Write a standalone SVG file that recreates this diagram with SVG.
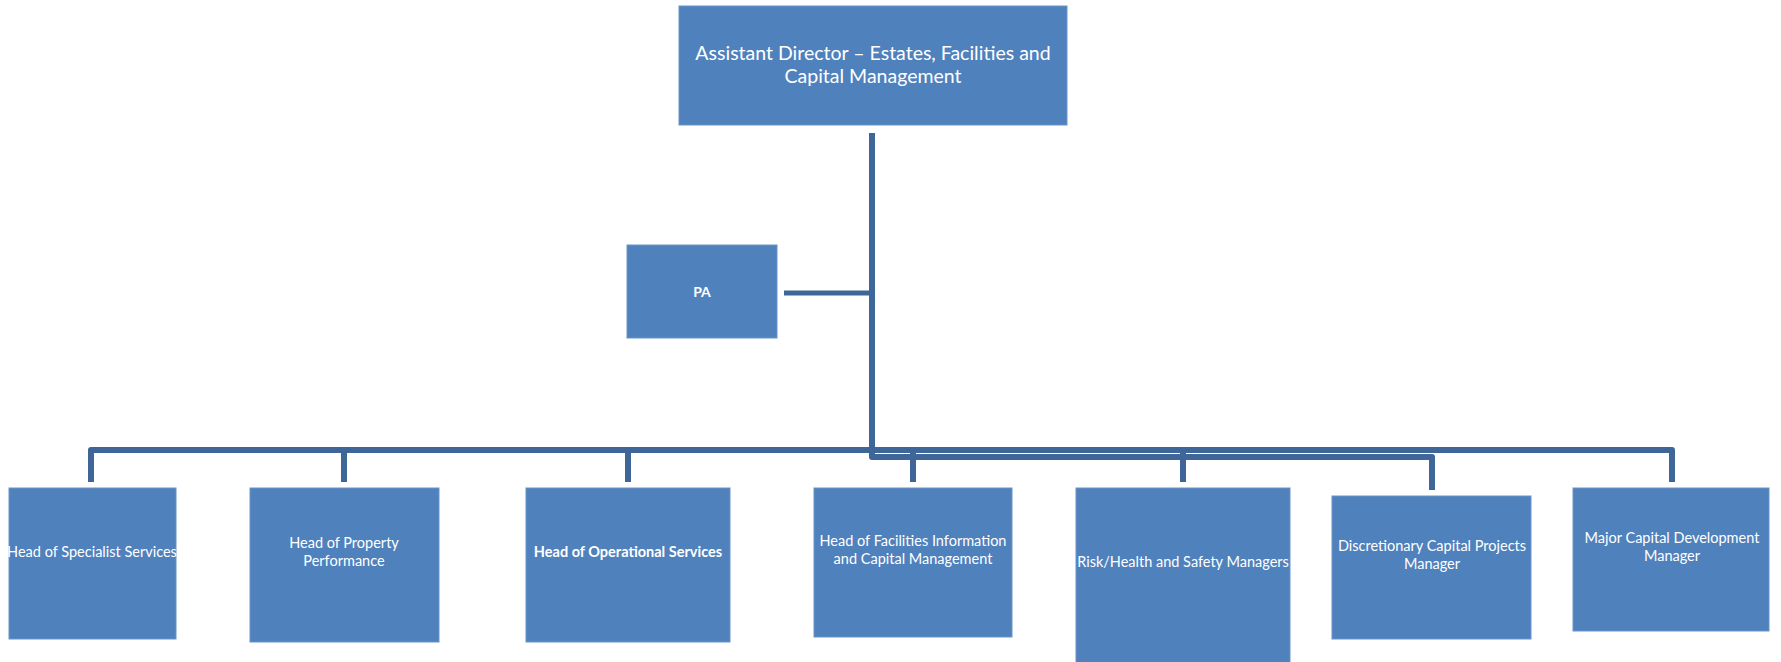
<svg xmlns="http://www.w3.org/2000/svg" width="1781" height="662" viewBox="0 0 1781 662">
<style>
.box{fill:#4F81BD;stroke:#6A93C6;stroke-width:1}
.t{fill:#FFFFFF;font-family:Lato,"Open Sans","Liberation Sans",sans-serif;text-anchor:middle}
.s{font-size:14.5px}
.b{font-weight:bold}
.c{fill:none;stroke:#3E6698;stroke-width:6;stroke-linejoin:round;stroke-linecap:butt}
</style>
<rect width="1781" height="662" fill="#FFFFFF"/>
<g id="connectors">
<path class="c" d="M91 482 V450 H1672 V482"/>
<path class="c" d="M344 450 V482 M628 450 V482 M913 450 V482 M1183 450 V482"/>
<path class="c" d="M872 133 V457 H1432 V490"/>
<path class="c" style="stroke-width:5" d="M784 293 H872"/>
</g>
<g id="n-director">
<rect class="box" x="679" y="6" width="388" height="119"/>
<text class="t" x="873" y="60" font-size="19.5">Assistant Director – Estates, Facilities and</text>
<text class="t" x="873" y="83" font-size="19.5">Capital Management</text>
</g>
<g id="n-pa">
<rect class="box" x="627" y="245" width="150" height="93"/>
<text class="t b" x="702" y="297" font-size="14">PA</text>
</g>
<g id="n-specialist">
<rect class="box" x="9" y="488" width="167" height="151"/>
<text class="t s" x="92" y="557">Head of Specialist Services</text>
</g>
<g id="n-property">
<rect class="box" x="250" y="488" width="189" height="154"/>
<text class="t s" x="344" y="548">Head of Property</text>
<text class="t s" x="344" y="566">Performance</text>
</g>
<g id="n-operational">
<rect class="box" x="526" y="488" width="204" height="154"/>
<text class="t s b" x="628" y="557">Head of Operational Services</text>
</g>
<g id="n-facilities">
<rect class="box" x="814" y="488" width="198" height="149"/>
<text class="t s" x="913" y="546">Head of Facilities Information</text>
<text class="t s" x="913" y="564">and Capital Management</text>
</g>
<g id="n-risk">
<rect class="box" x="1076" y="488" width="214" height="180"/>
<text class="t s" x="1183" y="567">Risk/Health and Safety Managers</text>
</g>
<g id="n-discretionary">
<rect class="box" x="1332" y="496" width="199" height="143"/>
<text class="t s" x="1432" y="551">Discretionary Capital Projects</text>
<text class="t s" x="1432" y="569">Manager</text>
</g>
<g id="n-major">
<rect class="box" x="1573" y="488" width="196" height="143"/>
<text class="t s" x="1672" y="543">Major Capital Development</text>
<text class="t s" x="1672" y="561">Manager</text>
</g>
</svg>
